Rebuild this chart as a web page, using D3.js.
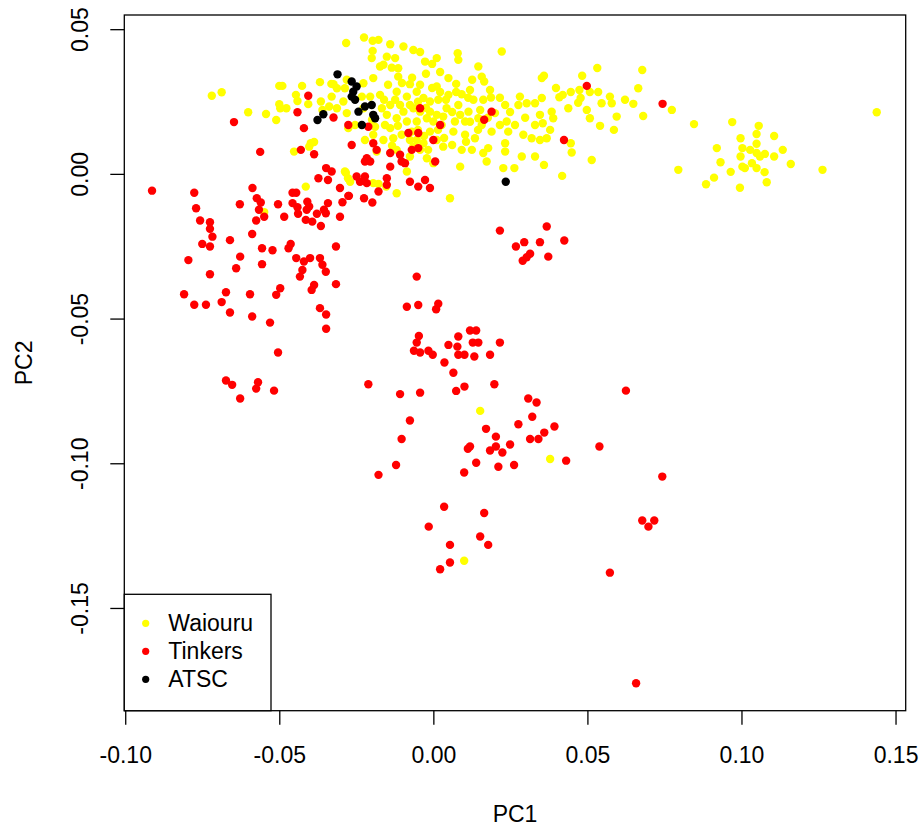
<!DOCTYPE html>
<html>
<head>
<meta charset="utf-8">
<script src="https://cdn.jsdelivr.net/npm/d3@7"></script>
<style>
  body { margin: 0; background: #fff; }
  svg text { font-family: "Liberation Sans", Arial, sans-serif; fill: #000; }
</style>
</head>
<body>
<svg id="chart" width="920" height="826"></svg>
<script>
// PC1 / PC2 scores, one [pc1, pc2] pair per sample
const waiouru = [
  [-0.0719,0.0270],[-0.0687,0.0282],[-0.0601,0.0213],[-0.0543,0.0207],[-0.0510,0.0186],[-0.0500,0.0304],[-0.0490,0.0304],[-0.0426,0.0304],[-0.0368,0.0317],[-0.0331,0.0311],
  [-0.0446,0.0273],[-0.0441,0.0252],[-0.0406,0.0241],[-0.0500,0.0241],[-0.0497,0.0227],[-0.0477,0.0227],[-0.0365,0.0250],[-0.0360,0.0221],[-0.0338,0.0233],[-0.0398,0.0106],
  [-0.0387,0.0110],[-0.0403,0.0094],[-0.0452,0.0077],[-0.0414,-0.0044],[-0.0549,-0.0132],[-0.0284,0.0004],[-0.0277,-0.0015],
  [-0.0225,0.0471],[-0.0283,0.0452],[-0.0197,0.0460],[-0.0178,0.0463],[-0.0140,0.0448],[-0.0097,0.0440],[-0.0065,0.0428],[-0.0043,0.0421],[-0.0197,0.0425],
  [-0.0200,0.0400],[-0.0151,0.0405],[-0.0124,0.0400],[-0.0162,0.0377],[-0.0135,0.0367],[-0.0173,0.0371],[-0.0114,0.0365],[-0.0027,0.0388],[0.0011,0.0400],[-0.0114,0.0336],
  [-0.0076,0.0310],[-0.0195,0.0331],[-0.0227,0.0313],[-0.0281,0.0325],[-0.0324,0.0310],[-0.0313,0.0296],[-0.0287,0.0296],[-0.0330,0.0267],[-0.0292,0.0250],[-0.0313,0.0227],
  [-0.0281,0.0210],[-0.0254,0.0169],[-0.0276,0.0158],[-0.0227,0.0227],[-0.0173,0.0273],[-0.0119,0.0284],[-0.0086,0.0267],[-0.0054,0.0284],[-0.0032,0.0262],[-0.0011,0.0250],
  [-0.0065,0.0227],[-0.0097,0.0215],[-0.0119,0.0192],[-0.0086,0.0181],[-0.0054,0.0181],[-0.0021,0.0192],[0.0000,0.0181],[-0.0011,0.0146],[0.0011,0.0117],[-0.0032,0.0106],
  [-0.0065,0.0094],[-0.0103,0.0135],[-0.0130,0.0123],[-0.0162,0.0117],[-0.0195,0.0135],[-0.0189,0.0163],[-0.0157,0.0169],[-0.0151,0.0204],[-0.0167,0.0227],[-0.0140,0.0238],
  [-0.0108,0.0238],[-0.0076,0.0238],[-0.0043,0.0215],[-0.0011,0.0215],[0.0011,0.0204],[-0.0070,0.0146],[-0.0140,0.0158],[-0.0076,0.0060],[-0.0021,0.0054],[0.0000,0.0037],
  [-0.0043,0.0083],[-0.0119,0.0083],[-0.0184,0.0077],[-0.0287,0.0008],[-0.0270,-0.0027],[-0.0195,-0.0032],[-0.0119,-0.0067],[-0.0086,0.0008],[-0.0054,0.0117],[-0.0205,0.0267],
  [-0.0232,0.0267],[-0.0153,-0.0044],[-0.0178,-0.0035],
  [-0.0147,0.0308],[-0.0102,0.0314],[-0.0043,0.0308],[-0.0004,0.0297],[0.0022,0.0283],[-0.0160,0.0256],[-0.0050,0.0249],[-0.0024,0.0228],[-0.0115,0.0166],[-0.0050,0.0152],
  [-0.0030,0.0131],[0.0015,0.0152],[-0.0076,0.0117],[-0.0134,0.0097],[-0.0017,0.0083],[0.0035,0.0124],[0.0061,0.0214],[0.0041,0.0256],[0.0074,0.0283],[0.0113,0.0263],
  [0.0087,0.0204],[0.0119,0.0180],[0.0145,0.0152],[0.0061,0.0100],[0.0106,0.0111],[0.0152,0.0221],[0.0177,0.0194],[0.0074,0.0311],[0.0126,0.0325],[0.0216,0.0263],
  [0.0249,0.0214],[0.0265,0.0169],[0.0298,0.0194],[0.0346,0.0204],[-0.0222,0.0117],[-0.0199,0.0187],[-0.0124,0.0256],[-0.0069,0.0332],[-0.0024,0.0346],[0.0022,0.0352],
  [-0.0004,0.0380],
  [0.0079,0.0417],[0.0081,0.0394],[0.0222,0.0423],[0.0146,0.0371],[0.0049,0.0331],[0.0157,0.0336],[0.0165,0.0319],[0.0119,0.0290],[0.0092,0.0275],[0.0184,0.0290],
  [0.0187,0.0264],[0.0049,0.0273],[0.0011,0.0302],[0.0016,0.0256],[0.0043,0.0227],[0.0081,0.0238],[0.0130,0.0256],[0.0162,0.0256],[0.0114,0.0215],[0.0146,0.0192],
  [0.0200,0.0210],[0.0233,0.0238],[0.0281,0.0267],[0.0303,0.0244],[0.0330,0.0244],[0.0352,0.0262],[0.0276,0.0238],[0.0238,0.0181],[0.0216,0.0169],[0.0189,0.0146],
  [0.0243,0.0146],[0.0292,0.0135],[0.0330,0.0169],[0.0319,0.0123],[0.0346,0.0117],[0.0352,0.0331],[0.0027,0.0169],[0.0065,0.0146],[0.0103,0.0135],[0.0135,0.0123],
  [0.0032,0.0094],[0.0092,0.0083],[0.0125,0.0083],[0.0162,0.0072],[0.0178,0.0089],[0.0233,0.0106],[0.0233,0.0077],[0.0287,0.0060],[0.0330,0.0060],[0.0087,0.0025],
  [0.0173,0.0043],[0.0227,0.0020],[0.0263,0.0020],[0.0054,-0.0084],[0.0070,0.0181],[0.0103,0.0181],[0.0157,0.0169],[0.0032,0.0198],
  [0.0359,0.0339],[0.0483,0.0339],[0.0532,0.0366],[0.0678,0.0359],[0.0398,0.0297],[0.0409,0.0265],[0.0420,0.0273],[0.0446,0.0283],[0.0474,0.0290],[0.0508,0.0283],
  [0.0535,0.0283],[0.0478,0.0262],[0.0470,0.0246],[0.0438,0.0227],[0.0498,0.0221],[0.0546,0.0244],[0.0573,0.0267],[0.0579,0.0244],[0.0622,0.0256],[0.0649,0.0242],
  [0.0665,0.0296],[0.0384,0.0215],[0.0389,0.0192],[0.0508,0.0192],[0.0595,0.0198],[0.0681,0.0200],[0.0774,0.0221],[0.0541,0.0166],[0.0586,0.0152],[0.0355,0.0175],
  [0.0379,0.0152],[0.0368,0.0123],[0.0449,0.0074],[0.0446,0.0106],[0.0514,0.0048],[0.0359,0.0031],[0.0418,-0.0007],[0.0846,0.0172],[0.0795,0.0014],[0.0920,0.0089],
  [0.0911,-0.0013],[0.0885,-0.0036],
  [0.0970,0.0179],[0.1056,0.0166],[0.1049,0.0138],[0.1106,0.0131],[0.0997,0.0123],[0.1049,0.0104],[0.1003,0.0089],[0.1028,0.0083],[0.1049,0.0072],[0.1060,0.0060],
  [0.1076,0.0069],[0.0997,0.0060],[0.1134,0.0083],[0.1106,0.0060],[0.0932,0.0040],[0.1034,0.0037],[0.1003,0.0025],[0.1011,0.0020],[0.1049,0.0020],[0.1160,0.0034],
  [0.0965,0.0007],[0.1075,0.0006],[0.1082,-0.0029],[0.0995,-0.0048],[0.1263,0.0014],[0.1439,0.0213],
  [0.0152,-0.0819],[0.0379,-0.0985],[0.0100,-0.1337]
];

const tinkers = [
  [-0.0913,-0.0058],[-0.0776,-0.0065],[-0.0587,-0.0049],[-0.0628,-0.0105],[-0.0573,-0.0084],[-0.0560,-0.0099],[-0.0566,-0.0124],[-0.0549,-0.0148],[-0.0575,-0.0161],[-0.0504,-0.0105],
  [-0.0484,-0.0148],[-0.0457,-0.0065],[-0.0445,-0.0065],[-0.0457,-0.0101],[-0.0441,-0.0115],[-0.0439,-0.0138],[-0.0409,-0.0096],[-0.0403,-0.0113],[-0.0411,-0.0124],[-0.0414,-0.0159],
  [-0.0393,-0.0165],[-0.0378,-0.0138],[-0.0365,-0.0180],[-0.0355,-0.0124],[-0.0342,-0.0101],[-0.0349,-0.0136],[-0.0303,-0.0049],[-0.0295,-0.0098],[-0.0274,-0.0076],[-0.0303,-0.0148],
  [-0.0342,-0.0021],[-0.0373,-0.0015],[-0.0348,0.0020],[-0.0770,-0.0119],[-0.0757,-0.0161],[-0.0725,-0.0167],[-0.0725,-0.0190],[-0.0717,-0.0217],[-0.0750,-0.0242],[-0.0725,-0.0251],
  [-0.0660,-0.0229],[-0.0588,-0.0208],[-0.0556,-0.0257],[-0.0522,-0.0264],[-0.0470,-0.0257],[-0.0463,-0.0242],[-0.0627,-0.0286],[-0.0640,-0.0326],[-0.0556,-0.0312],[-0.0795,-0.0298],
  [-0.0725,-0.0347],[-0.0445,-0.0291],[-0.0420,-0.0303],[-0.0400,-0.0291],[-0.0368,-0.0291],[-0.0360,-0.0314],[-0.0349,-0.0338],[-0.0425,-0.0332],[-0.0433,-0.0355],[-0.0387,-0.0384],
  [-0.0395,-0.0401],[-0.0316,-0.0251],[-0.0316,-0.0381],[-0.0809,-0.0416],[-0.0776,-0.0452],[-0.0738,-0.0452],[-0.0673,-0.0409],[-0.0687,-0.0443],[-0.0660,-0.0479],[-0.0595,-0.0416],
  [-0.0588,-0.0493],[-0.0510,-0.0418],[-0.0497,-0.0395],[-0.0530,-0.0514],[-0.0368,-0.0464],[-0.0348,-0.0486],[-0.0348,-0.0535],[-0.0504,-0.0617],[-0.0673,-0.0714],[-0.0653,-0.0729],
  [-0.0627,-0.0776],[-0.0569,-0.0720],[-0.0575,-0.0742],[-0.0517,-0.0749],
  [-0.0406,0.0270],[-0.0441,0.0213],[-0.0647,0.0179],[-0.0420,0.0158],[-0.0562,0.0076],[-0.0430,0.0083],[-0.0387,0.0068],[-0.0324,0.0195],
  [-0.0276,0.0169],[-0.0211,0.0163],[-0.0265,0.0100],[-0.0195,0.0106],[-0.0216,0.0054],[-0.0205,0.0043],[-0.0222,0.0043],[-0.0184,0.0083],[-0.0140,0.0072],[-0.0140,0.0025],
  [-0.0108,0.0066],[-0.0103,0.0043],[-0.0070,0.0083],[-0.0049,0.0089],[-0.0081,0.0141],[-0.0049,0.0141],[-0.0043,0.0227],[0.0000,0.0117],[-0.0249,-0.0009],[-0.0222,-0.0009],
  [-0.0238,-0.0027],[-0.0216,-0.0032],[-0.0178,-0.0061],[-0.0151,-0.0015],[-0.0151,-0.0038],[-0.0076,-0.0027],[-0.0049,-0.0044],[-0.0027,-0.0021],[-0.0011,-0.0049],[-0.0092,0.0037],
  [-0.0330,0.0008],
  [0.0165,0.0187],[0.0189,0.0215],[0.0022,0.0169],[0.0006,0.0043],[0.0498,0.0304],[0.0744,0.0242],[0.0424,0.0117],
  [-0.0276,-0.0076],[-0.0225,-0.0084],[-0.0198,-0.0099],
  [0.0216,-0.0196],[0.0268,-0.0251],[0.0295,-0.0236],[0.0346,-0.0236],[0.0368,-0.0182],[0.0425,-0.0230],[0.0314,-0.0276],[0.0303,-0.0288],[0.0290,-0.0300],[0.0373,-0.0286],
  [-0.0054,-0.0355],[-0.0086,-0.0459],[-0.0049,-0.0453],[0.0016,-0.0449],[0.0009,-0.0468],[-0.0047,-0.0560],[-0.0054,-0.0583],[-0.0063,-0.0611],[-0.0043,-0.0617],[-0.0016,-0.0611],
  [-0.0002,-0.0625],[0.0036,-0.0652],[0.0065,-0.0687],[0.0049,-0.0591],[0.0078,-0.0597],[0.0081,-0.0562],[0.0081,-0.0625],[0.0101,-0.0625],[0.0119,-0.0541],[0.0139,-0.0541],
  [0.0128,-0.0583],[0.0146,-0.0583],[0.0133,-0.0631],[0.0184,-0.0625],[0.0216,-0.0583],
  [-0.0211,-0.0727],[-0.0108,-0.0761],[-0.0043,-0.0756],[0.0074,-0.0750],[0.0101,-0.0735],[0.0198,-0.0727],[0.0308,-0.0776],[0.0335,-0.0790],[0.0321,-0.0839],[-0.0076,-0.0852],
  [-0.0103,-0.0916],[0.0171,-0.0881],[0.0203,-0.0908],[0.0276,-0.0865],[0.0393,-0.0873],[0.0360,-0.0894],[0.0341,-0.0916],[0.0314,-0.0916],[0.0249,-0.0935],[0.0203,-0.0942],
  [0.0184,-0.0956],[0.0224,-0.0963],[0.0119,-0.0942],[0.0112,-0.0950],[0.0139,-0.0998],[0.0211,-0.1012],[0.0262,-0.1006],[0.0100,-0.1032],[-0.0121,-0.1006],[-0.0178,-0.1040],
  [0.0431,-0.0991],[0.0539,-0.0942],[0.0035,-0.1150],[0.0165,-0.1172],[-0.0015,-0.1219],[0.0152,-0.1253],[0.0178,-0.1282],[0.0054,-0.1282],[0.0054,-0.1343],[0.0022,-0.1366],
  [0.0625,-0.0749],[0.0743,-0.1046],[0.0678,-0.1198],[0.0717,-0.1198],[0.0698,-0.1219],[0.0573,-0.1378],[0.0658,-0.1760]
];

const atsc = [
  [-0.0376,0.0186],[-0.0357,0.0206],[-0.0311,0.0344],[-0.0265,0.0319],[-0.0249,0.0302],[-0.0260,0.0284],[-0.0265,0.0267],[-0.0254,0.0256],[-0.0222,0.0233],[-0.0200,0.0238],
  [-0.0195,0.0204],[-0.0232,0.0169],[-0.0243,0.0215],[-0.0189,0.0192],[0.0235,-0.0027]
];

const groupNames = ["Waiouru", "Tinkers", "ATSC"];
const groupColors = ["#ffff00", "#ff0000", "#000000"];
const xTicks = [-0.10, -0.05, 0.00, 0.05, 0.10, 0.15];
const yTicks = [-0.15, -0.10, -0.05, 0.00, 0.05];
const xLim = [-0.1003, 0.1533];
const yLim = [-0.1855, 0.0549];

const svg = d3.select("#chart");
const box = { left: 124.3, right: 905.7, top: 15, bottom: 710.7 };
const fontSize = 23;

const x = d3.scaleLinear().domain(xLim).range([box.left, box.right]);
const y = d3.scaleLinear().domain(yLim).range([box.bottom, box.top]);
const color = d3.scaleOrdinal().domain(groupNames).range(groupColors);

// points: yellow first, then red, black on top
const groups = [waiouru, tinkers, atsc];
groups.forEach((pts, i) => {
  svg.append("g")
    .selectAll("circle")
    .data(pts)
    .join("circle")
    .attr("cx", d => x(d[0]))
    .attr("cy", d => y(d[1]))
    .attr("r", 4.2)
    .attr("fill", color(groupNames[i]));
});

// plot frame
svg.append("rect")
  .attr("x", box.left).attr("y", box.top)
  .attr("width", box.right - box.left).attr("height", box.bottom - box.top)
  .attr("fill", "none").attr("stroke", "#000").attr("stroke-width", 1.3);

// R prints a plain hyphen, not the unicode minus d3.format gives
const fmt = d => d.toFixed(2);

// x axis
const gx = svg.append("g")
  .attr("transform", `translate(0,${box.bottom})`)
  .call(d3.axisBottom(x).tickValues(xTicks).tickSize(14).tickPadding(22).tickFormat(fmt));
gx.select(".domain").remove();
gx.selectAll("line").attr("stroke-width", 1.3);
gx.selectAll("text").attr("font-size", fontSize).attr("font-family", null);

// y axis, labels turned like R's default las=0
const gy = svg.append("g")
  .attr("transform", `translate(${box.left},0)`)
  .call(d3.axisLeft(y).tickValues(yTicks).tickSize(14).tickFormat(fmt));
gy.select(".domain").remove();
gy.selectAll("line").attr("stroke-width", 1.3);
gy.selectAll("text")
  .attr("font-size", fontSize).attr("font-family", null)
  .attr("transform", "rotate(-90)")
  .attr("x", 0).attr("y", -36.3).attr("dy", null)
  .attr("text-anchor", "middle");

// axis titles
svg.append("text")
  .attr("x", (box.left + box.right) / 2).attr("y", 822)
  .attr("text-anchor", "middle").attr("font-size", fontSize)
  .text("PC1");
svg.append("text")
  .attr("transform", `translate(32,${(box.top + box.bottom) / 2}) rotate(-90)`)
  .attr("text-anchor", "middle").attr("font-size", fontSize)
  .text("PC2");

// legend, bottom left
const legend = svg.append("g");
legend.append("rect")
  .attr("x", box.left).attr("y", 594.3)
  .attr("width", 146.7).attr("height", box.bottom - 594.3)
  .attr("fill", "#fff").attr("stroke", "#000").attr("stroke-width", 1.3);
const rows = legend.selectAll("g.row")
  .data(groupNames)
  .join("g")
  .attr("class", "row")
  .attr("transform", (d, i) => `translate(${box.left},${623.3 + i * 28})`);
rows.append("circle")
  .attr("cx", 21.4).attr("cy", 0).attr("r", 3.6)
  .attr("fill", d => color(d));
rows.append("text")
  .attr("x", 44).attr("y", 0).attr("dy", "0.35em")
  .attr("font-size", fontSize)
  .text(d => d);
</script>
</body>
</html>
